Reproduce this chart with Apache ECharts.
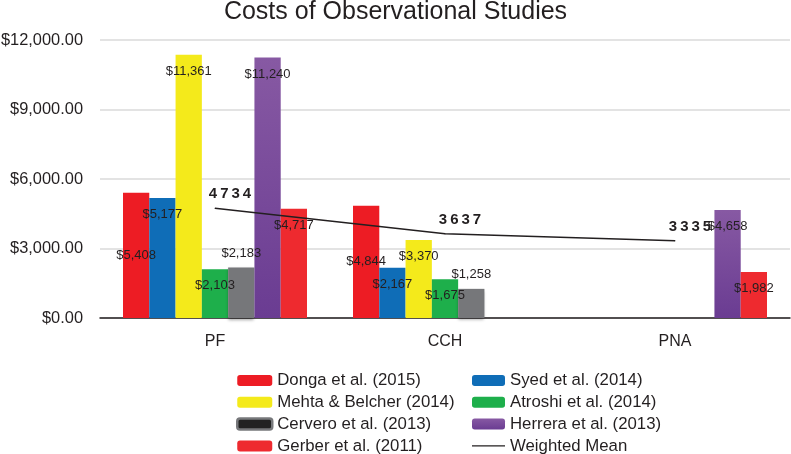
<!DOCTYPE html>
<html>
<head>
<meta charset="utf-8">
<script src="https://cdn.jsdelivr.net/npm/echarts@6/dist/echarts.min.js"></script>
<style>html,body{margin:0;padding:0;background:#fff;}#chart{width:791px;height:454px;}</style>
</head>
<body>
<div id="chart"></div>
<script>
var categories = ['PF', 'CCH', 'PNA'];
var donga = [5408, 4844, null];
var syed = [5177, 2167, null];
var mehta = [11361, 3370, null];
var atroshi = [2103, 1675, null];
var cervero = [2183, 1258, null];
var herrera = [11240, null, 4658];
var gerber = [4717, null, 1982];
var weightedMean = [4734, 3637, 3335];
var yTicks = [0, 3000, 6000, 9000, 12000];

var FONT = '"Liberation Sans", Arial, sans-serif';
var TXT = '#231F20';

function money(v) { return '$' + Number(v).toLocaleString('en-US'); }

function barSeries(name, data, color, labelPos, extra) {
  var lbl = { show: true, position: labelPos, color: TXT, fontFamily: FONT, fontSize: 13,
    formatter: function (p) { return money(p.value); } };
  if (labelPos === 'insideTop') lbl.distance = 10;
  if (labelPos === 'top') lbl.distance = 8;
  var s = { name: name, type: 'bar', data: data, barGap: '0%', barCategoryGap: '20%',
    itemStyle: Object.assign({ color: color }, extra || {}), label: lbl, z: 2 };
  return s;
}

var legendText = { fontFamily: FONT, fontSize: 16.8, color: TXT };

var chart = echarts.init(document.getElementById('chart'), null, { renderer: 'canvas' });
var option = {
  backgroundColor: '#fff',
  animation: false,
  title: { text: 'Costs of Observational Studies', left: 'center', top: 0, padding: 0,
    textStyle: { fontFamily: FONT, fontSize: 25, fontWeight: 'normal', color: TXT } },
  grid: { left: 100, right: 1, top: 40, bottom: 136, containLabel: false, outerBoundsMode: 'none' },
  legend: [
    { orient: 'vertical', left: 236, top: 372, padding: 0, height: 90, itemWidth: 35, itemHeight: 11,
      itemGap: 4.8, itemTextGap: 3,
      textStyle: legendText,
      data: ['Donga et al. (2015)', 'Mehta & Belcher (2014)',
        { name: 'Cervero et al. (2013)', itemStyle: { color: '#222', borderColor: '#77787B', borderWidth: 2.5 } },
        'Gerber et al. (2011)'] },
    { orient: 'vertical', left: 472, top: 372, padding: 0, height: 90, itemWidth: 33, itemHeight: 11,
      itemGap: 4.8, itemTextGap: 4,
      textStyle: legendText,
      data: ['Syed et al. (2014)', 'Atroshi et al. (2014)', 'Herrera et al. (2013)',
        { name: 'Weighted Mean', icon: 'path://M0,0 L40,0 L40,1.6 L0,1.6 Z', itemStyle: { color: '#231F20' } }] }
  ],
  xAxis: {
    type: 'category', data: categories,
    axisLine: { lineStyle: { color: '#231F20', width: 1.5 } },
    axisTick: { show: false },
    axisLabel: { fontFamily: FONT, fontSize: 16, color: TXT, margin: 16 }
  },
  yAxis: {
    type: 'value', min: yTicks[0], max: yTicks[yTicks.length - 1], interval: yTicks[1] - yTicks[0],
    axisLine: { show: false }, axisTick: { show: false },
    splitLine: { lineStyle: { color: '#DADADA', width: 1.5 } },
    axisLabel: { fontFamily: FONT, fontSize: 16.4, color: TXT, margin: 17,
      formatter: function (v) { return '$' + Number(v).toLocaleString('en-US', { minimumFractionDigits: 2, maximumFractionDigits: 2 }); } }
  },
  series: [
    barSeries('Donga et al. (2015)', donga, '#ED1C24', 'inside'),
    barSeries('Syed et al. (2014)', syed, '#0F6DB7', 'insideTop'),
    barSeries('Mehta & Belcher (2014)', mehta, '#F4EA1B', 'insideTop'),
    barSeries('Atroshi et al. (2014)', atroshi, '#1EAF4B', 'insideTop'),
    barSeries('Cervero et al. (2013)', cervero, '#76777A', 'top',
      { shadowColor: 'rgba(0,0,0,0.35)', shadowBlur: 3, shadowOffsetY: 2 }),
    barSeries('Herrera et al. (2013)', herrera,
      new echarts.graphic.LinearGradient(0, 0, 0, 1, [{ offset: 0, color: '#8759A3' }, { offset: 1, color: '#6A3C92' }]),
      'insideTop'),
    barSeries('Gerber et al. (2011)', gerber, '#EE2A2F', 'insideTop'),
    {
      name: 'Weighted Mean', type: 'line', data: weightedMean, symbol: 'circle', symbolSize: 1,
      showSymbol: true, z: 5,
      lineStyle: { color: '#231F20', width: 1.5 }, itemStyle: { color: '#231F20' },
      label: { show: true, position: 'top', offset: [15, -1], fontFamily: FONT, fontSize: 15,
        fontWeight: 'bold', color: TXT,
        formatter: function (p) { return String(p.value).split('').join('\u2009'); } }
    }
  ]
};
chart.setOption(option);
</script>
</body>
</html>
